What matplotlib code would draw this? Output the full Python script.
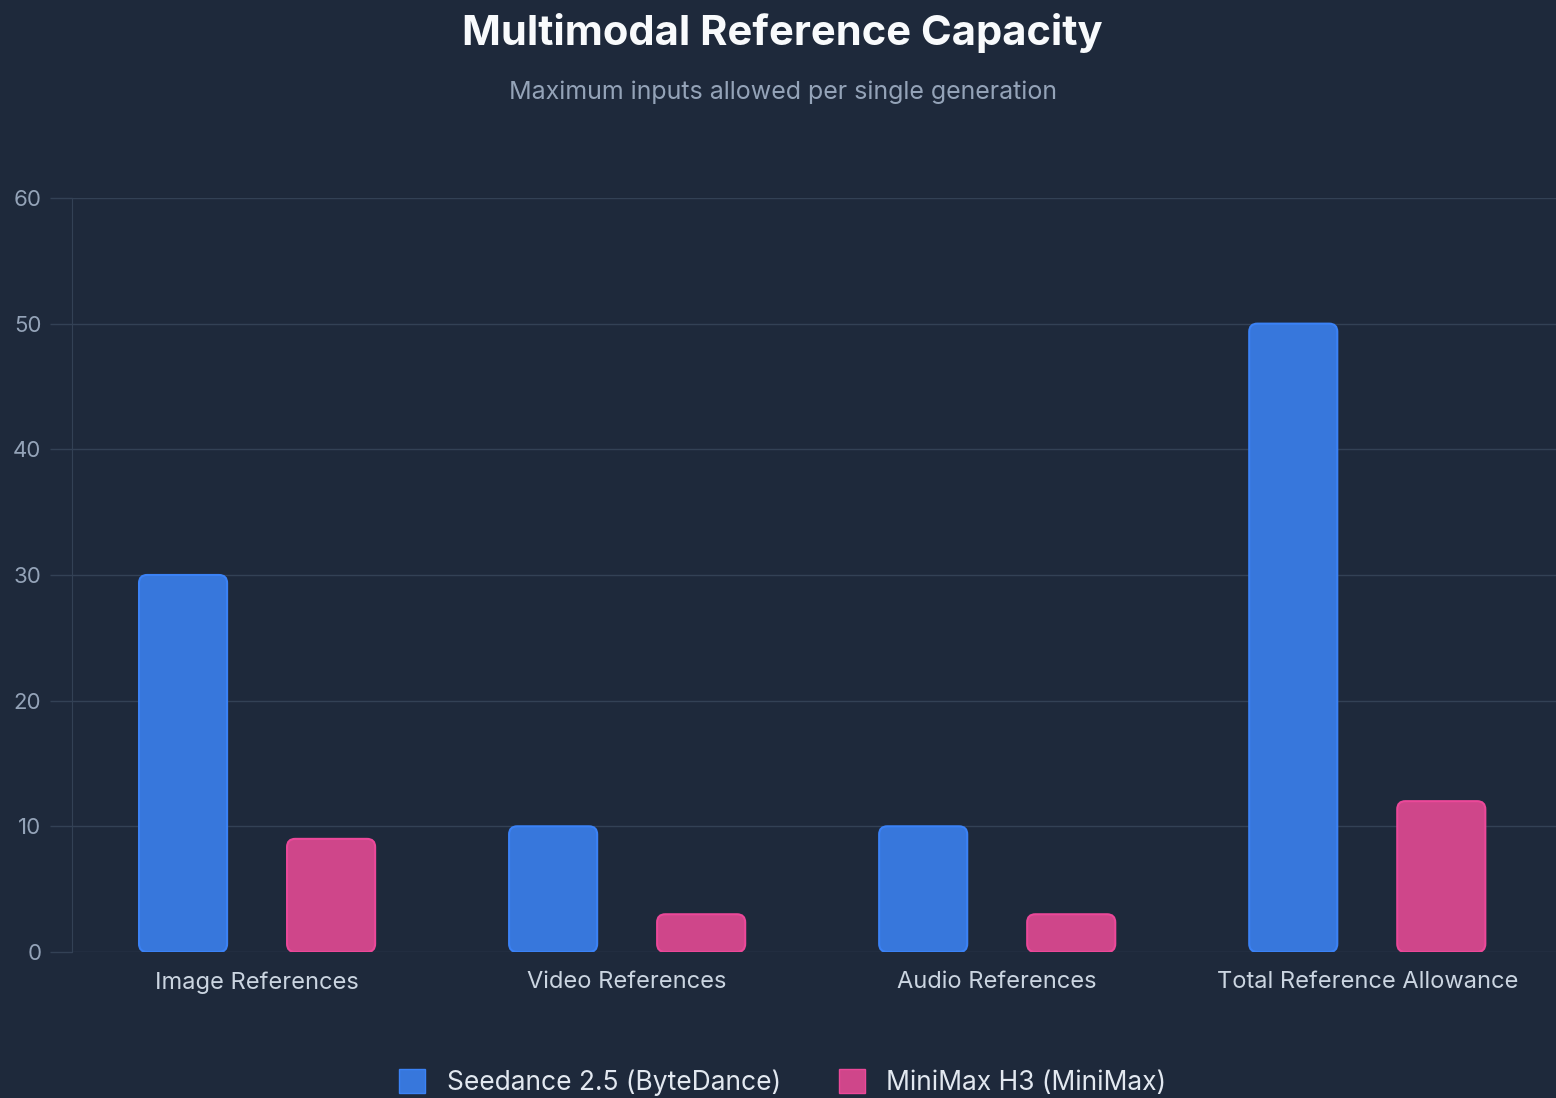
import matplotlib
matplotlib.use("Agg")
import matplotlib.pyplot as plt
from matplotlib.patches import FancyBboxPatch
import numpy as np

categories = ["Image References", "Video References", "Audio References", "Total Reference Allowance"]
series_names = ["Seedance 2.5 (ByteDance)", "MiniMax H3 (MiniMax)"]
seedance = [30, 10, 10, 50]
minimax = [9, 3, 3, 12]
yticks = [0, 10, 20, 30, 40, 50, 60]

bg = "#1e293b"
colors = ["#3777dc", "#cf468a"]
edges = ["#3b82f6", "#ec4899"]

plt.rcParams['font.family'] = ['Inter', 'DejaVu Sans']
fig = plt.figure(figsize=(15.56, 10.98), dpi=100, facecolor=bg)
ax = fig.add_axes([0.0463, 0.133, 0.9537, 0.6867], facecolor=bg)
x = np.arange(len(categories))
w = 0.238
off = 0.2
bars = []
for i, (vals, c, e, o) in enumerate(zip([seedance, minimax], colors, edges, [-off, off])):
    bc = ax.bar(x + o, vals, w, color=c, label=series_names[i])
    for p in bc:
        p.set_visible(False)
        fb = FancyBboxPatch((p.get_x(), p.get_y()), p.get_width(), p.get_height(),
                            boxstyle="round,pad=0,rounding_size=0.022",
                            mutation_aspect=29.4, facecolor=c, edgecolor=e, linewidth=1.5)
        ax.add_patch(fb)

ax.set_xlim(-0.5, 3.51)
ax.set_ylim(0, 60)
ax.set_yticks(yticks)
ax.set_xticks(x)
ax.set_xticklabels(categories, fontsize=17, color="#cbd5e1")
ax.tick_params(axis='y', labelsize=16, labelcolor="#94a3b8", color="#334155", length=16, width=1, pad=6)
ax.tick_params(axis='x', length=0, pad=14)
ax.grid(axis='y', color="#334155", linewidth=1)
ax.set_axisbelow(True)
for s in ["top", "right", "bottom"]:
    ax.spines[s].set_visible(False)
ax.spines["left"].set_color("#334155")

fig.text(0.503, 0.97, "Multimodal Reference Capacity", ha="center", va="center",
         fontsize=30, fontweight="bold", color="#f8fafc")
fig.text(0.503, 0.916, "Maximum inputs allowed per single generation", ha="center", va="center",
         fontsize=18, color="#94a3b8")

from matplotlib.patches import Patch
handles = [Patch(facecolor=c, edgecolor=e) for c, e in zip(colors, edges)]
leg = fig.legend(handles, series_names, loc="center", bbox_to_anchor=(0.503, 0.014), ncol=2,
                 frameon=False, fontsize=19, labelcolor="#e2e8f0", handlelength=1.0,
                 handleheight=1.0, columnspacing=2.2, handletextpad=0.8)
fig.savefig("out.png", dpi=100, facecolor=bg)
